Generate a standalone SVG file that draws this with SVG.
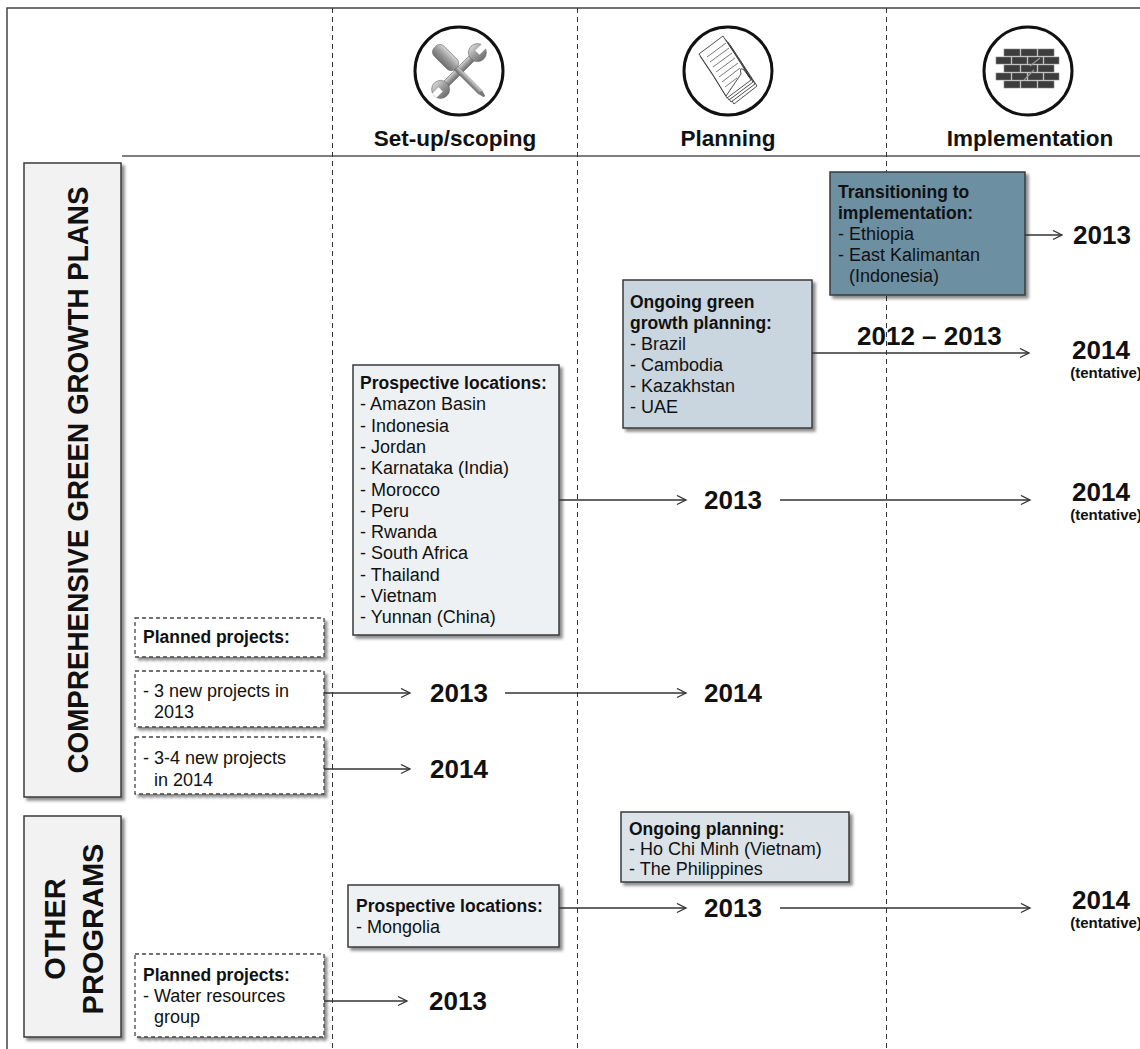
<svg xmlns="http://www.w3.org/2000/svg" width="1140" height="1049" viewBox="0 0 1140 1049">
<defs>
  <filter id="sh" x="-10%" y="-10%" width="130%" height="130%">
    <feDropShadow dx="3" dy="3" stdDeviation="1.5" flood-color="#000" flood-opacity="0.45"/>
  </filter>
  <marker id="ah" markerWidth="12" markerHeight="12" refX="10" refY="5" orient="auto" markerUnits="userSpaceOnUse">
    <path d="M1,0.5 L10,5 L1,9.5" fill="none" stroke="#333" stroke-width="1.3"/>
  </marker>
  <linearGradient id="metal" x1="0" y1="0" x2="0" y2="1">
    <stop offset="0" stop-color="#d8d8d8"/>
    <stop offset="0.5" stop-color="#9a9a9a"/>
    <stop offset="1" stop-color="#6e6e6e"/>
  </linearGradient>
</defs>
<style>
  text { font-family: "Liberation Sans", Arial, sans-serif; fill: #111; }
  .b { font-weight: bold; font-size: 17.5px; }
  .t { font-size: 18px; }
  .hd { font-size: 22.5px; font-weight: bold; text-anchor: middle; }
  .yr { font-size: 26px; font-weight: bold; }
  .tent { font-size: 15px; font-weight: bold; text-anchor: middle; }
  .lab { font-size: 29px; font-weight: bold; text-anchor: middle; }
  .box { stroke: #3a3a3a; stroke-width: 1.5; filter: url(#sh); }
  .dbox { fill: #fff; stroke: #444; stroke-width: 1.3; stroke-dasharray: 4 3; filter: url(#sh); }
  .vdash { stroke: #333; stroke-width: 1; stroke-dasharray: 5 4; fill: none; }
  .conn { stroke: #333; stroke-width: 1.3; fill: none; marker-end: url(#ah); }
  .ring { fill: #fff; stroke: #111; stroke-width: 3; }
  .sheet { fill: #fff; stroke: #222; stroke-width: 0.8; }
  .brick { fill: #3d3d3d; stroke: #888; stroke-width: 0.6; }
</style>

<rect x="0" y="0" width="1140" height="1049" fill="#fff"/>

<g id="frame">
  <path d="M7,1049 V8 H1140" fill="none" stroke="#444" stroke-width="1.5"/>
  <path d="M122,156 H1140" fill="none" stroke="#555" stroke-width="1.5"/>
  <path class="vdash" d="M332.5,8 V1049 M577.5,8 V1049 M886.5,8 V1049"/>
</g>

<g id="head-setup">
  <circle class="ring" cx="459" cy="71" r="44"/>
  <g transform="rotate(-45 459 71)">
    <rect x="436" y="67.5" width="46" height="7" rx="2" fill="url(#metal)" stroke="#666" stroke-width="0.6"/>
    <circle cx="433" cy="71" r="9" fill="url(#metal)" stroke="#666" stroke-width="0.6"/>
    <circle cx="485" cy="71" r="9" fill="url(#metal)" stroke="#666" stroke-width="0.6"/>
    <rect x="424" y="68" width="9" height="6" fill="#fff"/>
    <rect x="485" y="68" width="10" height="6" fill="#fff"/>
  </g>
  <g transform="rotate(45 459 71)">
    <rect x="425" y="64" width="30" height="14" rx="6" fill="url(#metal)" stroke="#666" stroke-width="0.6"/>
    <rect x="455" y="68.5" width="34" height="5" fill="url(#metal)" stroke="#666" stroke-width="0.5"/>
    <path d="M489,68.5 L495,70 L495,72 L489,73.5 Z" fill="#777"/>
  </g>
  <text class="hd" x="455" y="146">Set-up/scoping</text>
</g>

<g id="head-planning">
  <circle class="ring" cx="728" cy="71" r="44"/>
  <path class="sheet" d="M706,62 L730,45 Q744,66 757,86 L734,104 Q720,82 706,62 Z"/>
  <path class="sheet" d="M704,60 L728,42 Q742,63 755,84 L731,102 Q718,80 704,60 Z"/>
  <path class="sheet" d="M702,58 L726,40 Q740,61 753,82 L729,100 Q716,78 702,58 Z"/>
  <path class="sheet" d="M700,56 L724,38 Q738,59 751,80 L727,98 Q714,76 700,56 Z"/>
  <path class="sheet" d="M699,54 L723,36 Q737,57 750,78 L744,70 Q739,66 741,74 L726,96 Q713,74 699,54 Z"/>
  <path d="M707,57 L726,43 M710,62 L729,48 M713,67 L732,53 M716,72 L735,58 M719,77 L738,63 M722,82 L740,68 M725,87 L737,78" stroke="#555" stroke-width="0.8" fill="none"/>
  <text class="hd" x="728" y="146">Planning</text>
</g>

<g id="head-implementation">
  <circle class="ring" cx="1028" cy="71" r="44"/>
  <rect class="brick" x="1004" y="49" width="16" height="7"/>
  <rect class="brick" x="1021" y="49" width="16" height="7"/>
  <rect class="brick" x="1038" y="49" width="16" height="7"/>
  <rect class="brick" x="996" y="57" width="15" height="7"/>
  <rect class="brick" x="1012" y="57" width="15" height="7"/>
  <rect class="brick" x="1028" y="57" width="15" height="7"/>
  <rect class="brick" x="1044" y="57" width="15" height="7"/>
  <rect class="brick" x="1004" y="65" width="16" height="7"/>
  <rect class="brick" x="1021" y="65" width="16" height="7"/>
  <rect class="brick" x="1038" y="65" width="16" height="7"/>
  <rect class="brick" x="996" y="73" width="15" height="7"/>
  <rect class="brick" x="1012" y="73" width="15" height="7"/>
  <rect class="brick" x="1028" y="73" width="15" height="7"/>
  <rect class="brick" x="1044" y="73" width="15" height="7"/>
  <rect class="brick" x="1004" y="81" width="16" height="7"/>
  <rect class="brick" x="1021" y="81" width="16" height="7"/>
  <rect class="brick" x="1038" y="81" width="16" height="7"/>
  <path d="M1030,66 L1040,58 M1024,80 L1034,70" stroke="#999" stroke-width="1.2"/>
  <text class="hd" x="1030" y="146">Implementation</text>
</g>

<g id="label-cggp">
  <rect class="box" x="24" y="163" width="97" height="634" fill="#f2f2f2"/>
  <text class="lab" x="88" y="480" transform="rotate(-90 88 480)" textLength="587" lengthAdjust="spacingAndGlyphs">COMPREHENSIVE GREEN GROWTH PLANS</text>
</g>

<g id="label-other">
  <rect class="box" x="24" y="816" width="97" height="221" fill="#f2f2f2"/>
  <text class="lab" x="65" y="929" transform="rotate(-90 65 929)">OTHER</text>
  <text class="lab" x="103" y="929" transform="rotate(-90 103 929)">PROGRAMS</text>
</g>

<g id="node-transitioning">
  <rect class="box" x="830" y="172" width="195" height="123" fill="#6d8fa2"/>
  <text class="b" x="838" y="198">Transitioning to</text>
  <text class="b" x="838" y="219">implementation:</text>
  <text class="t" x="838" y="240">- Ethiopia</text>
  <text class="t" x="838" y="261">- East Kalimantan</text>
  <text class="t" x="849" y="282">(Indonesia)</text>
</g>

<g id="node-ongoing-ggp">
  <rect class="box" x="623" y="280" width="189" height="148" fill="#c9d6df"/>
  <text class="b" x="630" y="308">Ongoing green</text>
  <text class="b" x="630" y="329">growth planning:</text>
  <text class="t" x="630" y="350">- Brazil</text>
  <text class="t" x="630" y="371">- Cambodia</text>
  <text class="t" x="630" y="392">- Kazakhstan</text>
  <text class="t" x="630" y="413">- UAE</text>
</g>

<g id="node-prospective">
  <rect class="box" x="353" y="365" width="206" height="270" fill="#edf1f4"/>
  <text class="b" x="360" y="389">Prospective locations:</text>
  <text class="t" x="360" y="410">- Amazon Basin</text>
  <text class="t" x="360" y="432">- Indonesia</text>
  <text class="t" x="360" y="453">- Jordan</text>
  <text class="t" x="360" y="474">- Karnataka (India)</text>
  <text class="t" x="360" y="496">- Morocco</text>
  <text class="t" x="360" y="517">- Peru</text>
  <text class="t" x="360" y="538">- Rwanda</text>
  <text class="t" x="360" y="559">- South Africa</text>
  <text class="t" x="360" y="581">- Thailand</text>
  <text class="t" x="360" y="602">- Vietnam</text>
  <text class="t" x="360" y="623">- Yunnan (China)</text>
</g>

<g id="node-planned-head">
  <rect class="dbox" x="135" y="618" width="189" height="39"/>
  <text class="b" x="143" y="643">Planned projects:</text>
</g>

<g id="node-planned-2013">
  <rect class="dbox" x="135" y="671" width="189" height="56"/>
  <text class="t" x="143" y="697">- 3 new projects in</text>
  <text class="t" x="154" y="718">2013</text>
</g>

<g id="node-planned-2014">
  <rect class="dbox" x="135" y="737" width="189" height="57"/>
  <text class="t" x="143" y="764">- 3-4 new projects</text>
  <text class="t" x="154" y="786">in 2014</text>
</g>

<g id="node-ongoing-planning">
  <rect class="box" x="621" y="812" width="228" height="70" fill="#dbe3e9"/>
  <text class="b" x="629" y="835">Ongoing planning:</text>
  <text class="t" x="629" y="855">- Ho Chi Minh (Vietnam)</text>
  <text class="t" x="629" y="875">- The Philippines</text>
</g>

<g id="node-mongolia">
  <rect class="box" x="348" y="885" width="211" height="62" fill="#edf1f4"/>
  <text class="b" x="356" y="912">Prospective locations:</text>
  <text class="t" x="356" y="933">- Mongolia</text>
</g>

<g id="node-water">
  <rect class="dbox" x="135" y="954" width="189" height="83"/>
  <text class="b" x="143" y="981">Planned projects:</text>
  <text class="t" x="143" y="1002">- Water resources</text>
  <text class="t" x="154" y="1023">group</text>
</g>

<g id="years">
  <text class="yr" x="1073" y="244">2013</text>
  <text class="yr" x="857" y="345">2012 – 2013</text>
  <text class="yr" x="1101" y="359" text-anchor="middle">2014</text>
  <text class="tent" x="1106" y="378">(tentative)</text>
  <text class="yr" x="704" y="509">2013</text>
  <text class="yr" x="1101" y="501" text-anchor="middle">2014</text>
  <text class="tent" x="1106" y="520">(tentative)</text>
  <text class="yr" x="430" y="702">2013</text>
  <text class="yr" x="704" y="702">2014</text>
  <text class="yr" x="430" y="778">2014</text>
  <text class="yr" x="704" y="917">2013</text>
  <text class="yr" x="1101" y="909" text-anchor="middle">2014</text>
  <text class="tent" x="1106" y="928">(tentative)</text>
  <text class="yr" x="429" y="1010">2013</text>
</g>

<g id="connectors">
  <path class="conn" d="M1025,235 H1062"/>
  <path class="conn" d="M812,353 H1029"/>
  <path class="conn" d="M559,500 H686"/>
  <path class="conn" d="M780,500 H1030"/>
  <path class="conn" d="M324,693 H410"/>
  <path class="conn" d="M505,693 H686"/>
  <path class="conn" d="M324,769 H410"/>
  <path class="conn" d="M559,908 H686"/>
  <path class="conn" d="M780,908 H1030"/>
  <path class="conn" d="M324,1001 H407"/>
</g>
</svg>
